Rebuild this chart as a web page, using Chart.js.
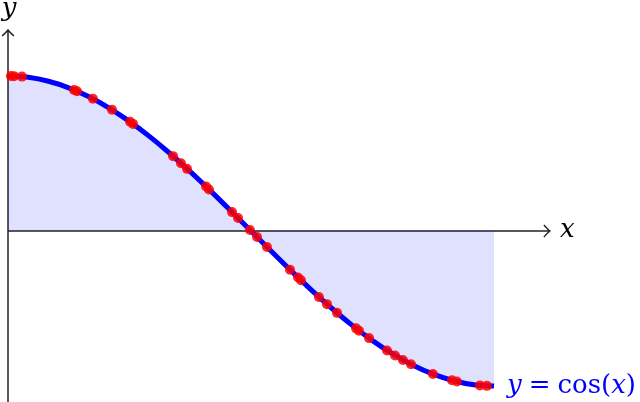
<!DOCTYPE html>
<html>
<head>
<meta charset="utf-8">
<script src="https://cdn.jsdelivr.net/npm/chart.js@4/dist/chart.umd.min.js"></script>
<style>
    html, body { margin: 0; padding: 0; background: #fff; }
    #wrap { width: 640px; height: 402px; }
</style>
</head>
<body>
<div id="wrap"><canvas id="plot" width="640" height="402"></canvas></div>
<script>
// curve y = cos(x)
const curveX = [0, 0.1309, 0.2618, 0.3927, 0.5236, 0.6545, 0.7854, 0.9163, 1.0472, 1.1781, 1.309, 1.4399,
    1.5708, 1.7017, 1.8326, 1.9635, 2.0944, 2.2253, 2.3562, 2.4871, 2.618, 2.7489, 2.8798, 3.0107, 3.1416];
const curveY = [1, 0.9914, 0.9659, 0.9239, 0.866, 0.7934, 0.7071, 0.6088, 0.5, 0.3827, 0.2588, 0.1305,
    0, -0.1305, -0.2588, -0.3827, -0.5, -0.6088, -0.7071, -0.7934, -0.866, -0.9239, -0.9659, -0.9914, -1];

// red sample points on the curve
const dotX = [0.019, 0.039, 0.09, 0.427, 0.446, 0.549, 0.672, 0.789, 0.808, 1.067, 1.118, 1.157, 1.28, 1.299,
    1.448, 1.487, 1.564, 1.61, 1.674, 1.823, 1.875, 1.894, 2.01, 2.062, 2.127, 2.25, 2.269, 2.334, 2.45,
    2.502, 2.553, 2.605, 2.747, 2.87, 2.902, 3.051, 3.096];
const dotY = [1, 0.999, 0.996, 0.91, 0.902, 0.853, 0.783, 0.705, 0.691, 0.483, 0.437, 0.401, 0.287, 0.268,
    0.122, 0.084, 0.007, -0.039, -0.103, -0.25, -0.3, -0.318, -0.426, -0.472, -0.528, -0.628, -0.643, -0.691,
    -0.771, -0.803, -0.832, -0.86, -0.923, -0.963, -0.971, -0.996, -0.999];

// axis extents and labels
const axisX = [0, 3.503];
const axisY = [-1.11, 1.297];
const curveLabel = ['y', '=', 'cos', '(', 'x', ')'];

function arrowHead(ctx, x, y, dir) {
    // tikz style "to" arrow, dir = 'right' | 'up'
    ctx.beginPath();
    if (dir === 'right') {
        ctx.moveTo(x - 6, y - 6);
        ctx.quadraticCurveTo(x - 2, y - 1.5, x, y);
        ctx.quadraticCurveTo(x - 2, y + 1.5, x - 6, y + 6);
    } else {
        ctx.moveTo(x - 6, y + 6);
        ctx.quadraticCurveTo(x - 1.5, y + 2, x, y);
        ctx.quadraticCurveTo(x + 1.5, y + 2, x + 6, y + 6);
    }
    ctx.stroke();
}

const axesPlugin = {
    id: 'axes',
    beforeDatasetsDraw(chart) {
        const { ctx } = chart;
        const sx = chart.scales.x;
        const sy = chart.scales.y;
        const x0 = sx.getPixelForValue(0);
        const y0 = sy.getPixelForValue(0);

        ctx.save();
        ctx.strokeStyle = '#222';
        ctx.lineWidth = 1.5;
        ctx.beginPath();
        ctx.moveTo(sx.getPixelForValue(axisX[0]), y0);
        ctx.lineTo(sx.getPixelForValue(axisX[1]), y0);
        ctx.moveTo(x0, sy.getPixelForValue(axisY[0]));
        ctx.lineTo(x0, sy.getPixelForValue(axisY[1]));
        ctx.stroke();
        ctx.lineWidth = 1.4;
        arrowHead(ctx, sx.getPixelForValue(axisX[1]), y0, 'right');
        arrowHead(ctx, x0, sy.getPixelForValue(axisY[1]), 'up');
        ctx.restore();
    },
    afterDatasetsDraw(chart) {
        const { ctx } = chart;
        const sx = chart.scales.x;
        const sy = chart.scales.y;
        const italic = 'italic 26px "DejaVu Serif", serif';
        const roman = '26px "DejaVu Serif", serif';

        ctx.save();
        ctx.fillStyle = '#000';
        ctx.font = italic;
        ctx.textAlign = 'center';
        ctx.textBaseline = 'alphabetic';
        ctx.fillText('y', sx.getPixelForValue(0) + 1, 16);
        ctx.textAlign = 'left';
        ctx.fillText('x', sx.getPixelForValue(axisX[1]) + 10, sy.getPixelForValue(0) + 6);

        // y = cos(x) label, roughly TeX spacing around "="
        let px = sx.getPixelForValue(Math.PI) + 13;
        const py = sy.getPixelForValue(-1) + 7;
        const gaps = [7, 7, 0, 0, 0, 0];
        ctx.fillStyle = '#0000ff';
        curveLabel.forEach((part, i) => {
            ctx.font = (part === 'x' || part === 'y') ? italic : roman;
            ctx.fillText(part, px, py);
            px += ctx.measureText(part).width + gaps[i];
        });
        ctx.restore();
    },
};

const pxPerUnitX = 486 / Math.PI;
const pxPerUnitY = 155;

new Chart(document.getElementById('plot'), {
    type: 'scatter',
    data: {
        datasets: [
            {
                data: dotX.map((x, i) => ({ x, y: dotY[i] })),
                pointRadius: 5,
                pointHoverRadius: 5,
                pointBackgroundColor: 'rgba(255, 0, 0, 0.85)',
                pointBorderWidth: 0,
                showLine: false,
                order: 0,
            },
            {
                data: curveX.map((x, i) => ({ x, y: curveY[i] })),
                showLine: true,
                pointRadius: 0,
                borderColor: '#0000ff',
                borderWidth: 5,
                cubicInterpolationMode: 'monotone',
                fill: 'origin',
                backgroundColor: 'rgba(0, 0, 255, 0.12)',
                order: 1,
            },
        ],
    },
    options: {
        responsive: false,
        animation: false,
        devicePixelRatio: 1,
        layout: { padding: 0, autoPadding: false },
        plugins: {
            legend: { display: false },
            tooltip: { enabled: false },
        },
        events: [],
        scales: {
            x: {
                type: 'linear',
                display: false,
                min: -8 / pxPerUnitX,
                max: (640 - 8) / pxPerUnitX,
            },
            y: {
                type: 'linear',
                display: false,
                min: -(402 - 231) / pxPerUnitY,
                max: 231 / pxPerUnitY,
            },
        },
    },
    plugins: [axesPlugin],
});
</script>
</body>
</html>
